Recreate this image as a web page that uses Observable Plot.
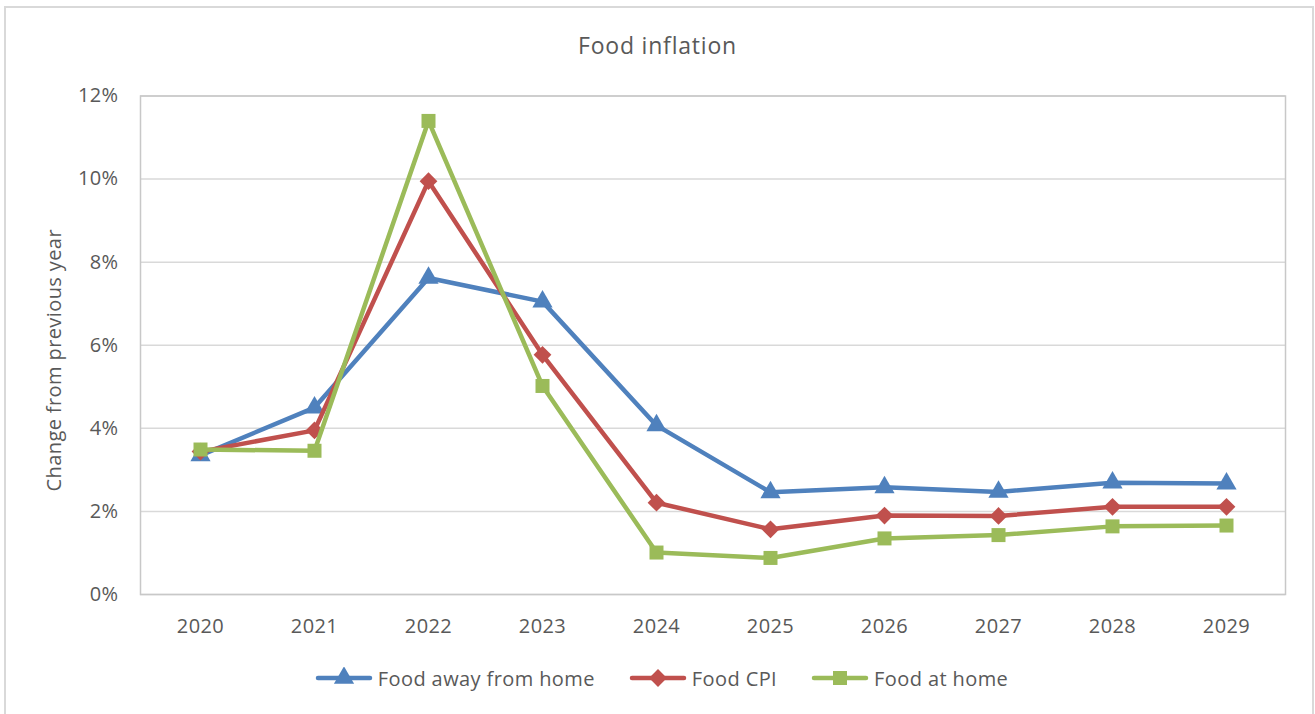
<!DOCTYPE html>
<html>
<head>
<meta charset="utf-8">
<script src="https://cdn.jsdelivr.net/npm/d3@7"></script>
<script src="https://cdn.jsdelivr.net/npm/@observablehq/plot@0.6"></script>
<style>
  html, body { margin: 0; padding: 0; background: #fff; }
  body { width: 1315px; height: 714px; overflow: hidden; position: relative;
         font-family: "Open Sans", sans-serif; color: #595959; }
  .frame { position: absolute; left: 4px; top: 6px; width: 1310px; height: 730px;
           border: 2px solid #d9d9d9; box-sizing: border-box; pointer-events: none; }
  .title { height: 70px; box-sizing: border-box; padding-top: 30px; line-height: 30px;
           text-align: center; font-size: 23px; letter-spacing: 0.8px; }
  .legend { height: 56px; display: flex; justify-content: center; align-items: center;
            font-size: 20px; letter-spacing: 0.4px; padding-left: 8px; }
  .legend .item { display: flex; align-items: center; margin: 0 17px; }
  .legend svg { margin-right: 5px; }
  #chart svg { display: block; }
</style>
</head>
<body>
<div class="frame"></div>
<div class="title">Food inflation</div>
<div id="chart"></div>
<div class="legend" id="legend"></div>
<script>
// Annual change in food prices, percent
const years = [2020, 2021, 2022, 2023, 2024, 2025, 2026, 2027, 2028, 2029];
const foodAwayFromHome = [3.35, 4.50, 7.62, 7.05, 4.07, 2.46, 2.58, 2.47, 2.69, 2.67];
const foodCPI = [3.44, 3.95, 9.95, 5.77, 2.21, 1.57, 1.90, 1.89, 2.11, 2.11];
const foodAtHome = [3.49, 3.46, 11.40, 5.02, 1.01, 0.88, 1.35, 1.43, 1.64, 1.66];
const yTicks = [0, 2, 4, 6, 8, 10, 12];
const yLabel = "Change from previous year";

const series = [
  {name: "Food away from home", values: foodAwayFromHome, color: "#4f81bd", symbol: "triangle", r: 7.5},
  {name: "Food CPI", values: foodCPI, color: "#c0504d", symbol: "diamond2", r: 8},
  {name: "Food at home", values: foodAtHome, color: "#9bbb59", symbol: "square", r: 7.9}
];

const rows = s => years.map((year, i) => ({year: String(year), value: s.values[i]}));

const marks = [
  Plot.gridY(yTicks, {stroke: "#d9d9d9", strokeOpacity: 1, strokeWidth: 1.5}),
  Plot.frame({stroke: "#c8c8c8", strokeWidth: 1.5}),
  Plot.axisY(yTicks, {tickSize: 0, tickPadding: 22, tickFormat: d => d + "%", label: null}),
  Plot.axisX({tickSize: 0, tickPadding: 24, label: null}),
  // y-axis title, rotated, left of the tick labels
  Plot.text([yLabel], {frameAnchor: "left", textAnchor: "middle", lineAnchor: "middle",
    rotate: -90, dx: -86, dy: 15, fontSize: 20, fill: "#595959", style: "letter-spacing:0"})
];
for (const s of series) {
  const data = rows(s);
  marks.push(Plot.line(data, {x: "year", y: "value", stroke: s.color, strokeWidth: 4.5, strokeLinejoin: "round", strokeLinecap: "round"}));
  marks.push(Plot.dot(data, {x: "year", y: "value", symbol: () => s.symbol, fill: s.color, stroke: "none", r: s.r}));
}

const chart = Plot.plot({
  width: 1315,
  height: 580,
  marginTop: 25.5,
  marginBottom: 56,
  marginLeft: 140,
  marginRight: 30,
  style: {fontFamily: "Open Sans", fontSize: "20px", color: "#595959", letterSpacing: "0.4px", background: "transparent"},
  x: {type: "point", domain: years.map(String), padding: 0.5},
  y: {domain: [0, 12]},
  symbol: {type: "identity"},
  marks
});
document.getElementById("chart").append(chart);

// Legend: line sample with its marker, followed by the series name
const shapes = {triangle: d3.symbolTriangle, diamond2: d3.symbolDiamond2, square: d3.symbolSquare};
const legend = document.getElementById("legend");
for (const s of series) {
  const item = document.createElement("div");
  item.className = "item";
  const path = d3.symbol(shapes[s.symbol], Math.PI * s.r * s.r)();
  item.innerHTML =
    `<svg width="58" height="22" viewBox="-29 -11 58 22">` +
    `<line x1="-26" x2="26" y1="0" y2="0" stroke="${s.color}" stroke-width="4.5" stroke-linecap="round"/>` +
    `<path d="${path}" fill="${s.color}"/></svg><span>${s.name}</span>`;
  legend.append(item);
}
</script>
</body>
</html>
